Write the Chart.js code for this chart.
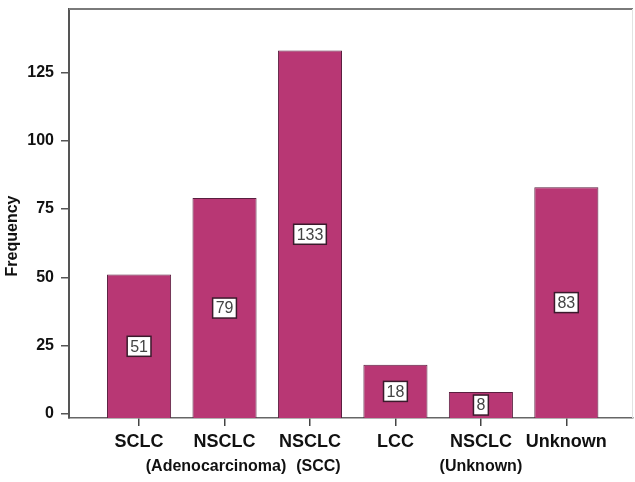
<!DOCTYPE html>
<html>
<head>
<meta charset="utf-8">
<title>Frequency by histology</title>
<script src="https://cdn.jsdelivr.net/npm/chart.js@4.4.1/dist/chart.umd.min.js"></script>
<style>
  html, body { margin: 0; padding: 0; background: #fff; }
  #chart { display: block; }
</style>
</head>
<body>
<canvas id="chart" width="635" height="482"></canvas>
<script>
// histology groups along the x axis (second line drawn smaller underneath)
const categories = ['SCLC', 'NSCLC', 'NSCLC', 'LCC', 'NSCLC', 'Unknown'];
const subtypes   = ['', '(Adenocarcinoma)', '(SCC)', '', '(Unknown)', ''];
const counts     = [51, 79, 133, 18, 8, 83];
const yTicks     = [0, 25, 50, 75, 100, 125];

const FONT = '"Liberation Sans", Arial, sans-serif';
const Y_MIN = -1.47;

Chart.defaults.font.family = FONT;
Chart.defaults.color = '#111';

// white boxes with the count, centred on each bar
const valueBoxes = {
    id: 'valueBoxes',
    afterDatasetsDraw(chart) {
        const { ctx } = chart;
        const meta = chart.getDatasetMeta(0);
        const ds = chart.data.datasets[0];
        ctx.save();
        ctx.font = '16px ' + FONT;
        ctx.textAlign = 'center';
        ctx.textBaseline = 'middle';
        meta.data.forEach((bar, i) => {
            const { x, y, base } = bar.getProps(['x', 'y', 'base'], true);
            const cy = (y + base) / 2;
            const text = String(ds.data[i].y);
            const w = ctx.measureText(text).width + 6;
            const h = 20;
            ctx.fillStyle = '#fff';
            ctx.fillRect(x - w / 2, cy - h / 2, w, h);
            ctx.strokeStyle = '#3b1a2c';
            ctx.lineWidth = 1.5;
            ctx.strokeRect(x - w / 2, cy - h / 2, w, h);
            ctx.fillStyle = '#444';
            ctx.fillText(text, x, cy + 1);
        });
        ctx.restore();
    }
};

// top/right frame, the subtype line under the x labels and the y title
const frameAndLabels = {
    id: 'frameAndLabels',
    afterDraw(chart) {
        const { ctx, chartArea } = chart;
        const xs = chart.scales.x;
        ctx.save();

        ctx.strokeStyle = '#7a7a7a';
        ctx.lineWidth = 2;
        ctx.beginPath();
        ctx.moveTo(chartArea.left, chartArea.top);
        ctx.lineTo(chartArea.right, chartArea.top);
        ctx.stroke();

        ctx.strokeStyle = '#e2e2e2';
        ctx.lineWidth = 1;
        ctx.beginPath();
        ctx.moveTo(chartArea.right - 0.5, chartArea.top);
        ctx.lineTo(chartArea.right - 0.5, chartArea.bottom);
        ctx.stroke();

        ctx.fillStyle = '#111';
        ctx.font = 'bold 16px ' + FONT;
        ctx.textAlign = 'center';
        ctx.textBaseline = 'middle';

        // centre each subtype under its tick, then push neighbours apart if they collide
        const items = subtypes
            .map((s, i) => ({ s, cx: xs.getPixelForValue(i), w: ctx.measureText(s).width }))
            .filter(it => it.s);
        const gap = 10;
        for (let k = 1; k < items.length; k++) {
            const a = items[k - 1], b = items[k];
            const overlap = (a.cx + a.w / 2 + gap) - (b.cx - b.w / 2);
            if (overlap > 0) {
                a.cx -= overlap / 2;
                b.cx += overlap / 2;
            }
        }
        items.forEach(it => ctx.fillText(it.s, it.cx, 467));

        ctx.translate(13, 236);
        ctx.rotate(-Math.PI / 2);
        ctx.fillText('Frequency', 0, 0);
        ctx.restore();
    }
};

const data = {
    datasets: [{
        label: 'Frequency',
        data: counts.map((v, i) => ({ x: i, y: v })),
        backgroundColor: '#b83774',
        borderColor: '#5a1f3f',
        borderWidth: 1,
        base: Y_MIN,
        categoryPercentage: 1,
        barPercentage: 0.75,
    }]
};

const options = {
    responsive: false,
    animation: false,
    layout: {
        padding: { top: 9, right: 2, bottom: 0, left: 0 }
    },
    plugins: {
        legend: { display: false },
        tooltip: { enabled: false },
    },
    scales: {
        x: {
            type: 'linear',
            min: -0.82,
            max: 5.78,
            bounds: 'data',
            offset: false,
            afterBuildTicks: s => { s.ticks = categories.map((_, i) => ({ value: i })); },
            afterFit: s => { s.height = 64; s.paddingLeft = 0; s.paddingRight = 0; },
            ticks: {
                callback: v => categories[v],
                font: { size: 18, weight: 'bold' },
                color: '#111',
                padding: 5,
                maxRotation: 0,
                autoSkip: false,
            },
            grid: {
                offset: false,
                drawOnChartArea: false,
                drawTicks: true,
                tickLength: 8,
                color: '#444',
                lineWidth: 1.5,
            },
            border: { display: true, color: '#666', width: 1.5 },
        },
        y: {
            min: Y_MIN,
            max: 148.2,
            afterBuildTicks: s => { s.ticks = yTicks.map(v => ({ value: v })); },
            afterFit: s => { s.width = 69; s.paddingTop = 0; s.paddingBottom = 0; },
            ticks: {
                font: { size: 16, weight: 'bold' },
                color: '#111',
                padding: 7,
            },
            grid: {
                drawOnChartArea: false,
                drawTicks: true,
                tickLength: 8,
                color: '#555',
                lineWidth: 1.5,
            },
            border: { display: true, color: '#555', width: 2 },
        },
    },
};

new Chart(document.getElementById('chart').getContext('2d'), {
    type: 'bar',
    data: data,
    options: options,
    plugins: [valueBoxes, frameAndLabels],
});
</script>
</body>
</html>
